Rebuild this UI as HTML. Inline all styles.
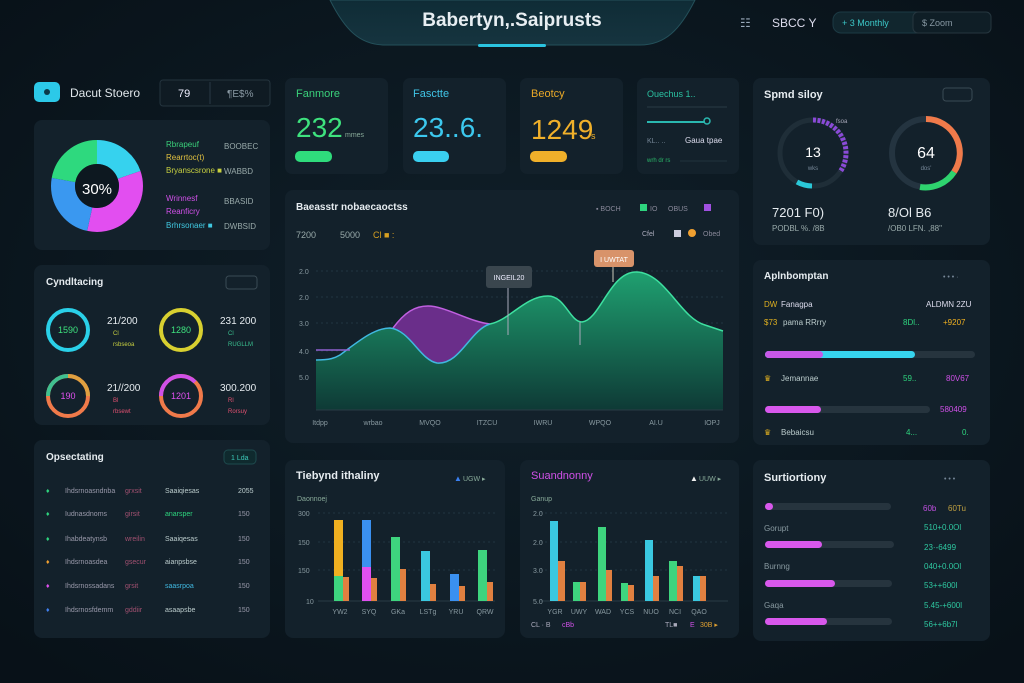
<!DOCTYPE html>
<html><head><meta charset="utf-8"><style>
html,body{margin:0;padding:0;background:#0b161e;}
svg{display:block;font-family:"Liberation Sans",sans-serif;}
</style></head><body>
<svg width="1024" height="683" viewBox="0 0 1024 683" xmlns="http://www.w3.org/2000/svg">
<defs>
<radialGradient id="bg" cx="50%" cy="45%" r="70%"><stop offset="0" stop-color="#10202a"/><stop offset="1" stop-color="#081118"/></radialGradient>
<linearGradient id="gA" x1="0" y1="0" x2="0" y2="1"><stop offset="0" stop-color="#1fa070"/><stop offset="1" stop-color="#0e3a36"/></linearGradient>
<linearGradient id="hdr" x1="0" y1="0" x2="0" y2="1"><stop offset="0" stop-color="#0f2c36"/><stop offset="1" stop-color="#16343f"/></linearGradient>
</defs>
<rect width="1024" height="683" fill="url(#bg)"/>
<!-- header -->
<path d="M330,0 L695,0 C680,30 665,45 640,45 L385,45 C360,45 345,30 330,0Z" fill="url(#hdr)" stroke="#24505a" stroke-width="1"/>
<rect x="478" y="44" width="68" height="3" rx="1.5" fill="#2bc4e0"/>
<text x="512" y="26" text-anchor="middle" font-size="19" font-weight="bold" fill="#e8eef2">Babertyn,.Saiprusts</text>
<text x="740" y="27" font-size="12" fill="#9ab">☷</text>
<text x="772" y="27" font-size="12" fill="#dde">SBCC Y</text>
<rect x="833" y="12" width="95" height="21" rx="8" fill="#11262e" stroke="#1c3a44"/>
<text x="842" y="26" font-size="9" fill="#3cc8c8">+ 3 Monthly</text>
<rect x="913" y="12" width="78" height="21" rx="5" fill="#0f1e26" stroke="#26363f"/>
<text x="922" y="26" font-size="9" fill="#8899a4">$ Zoom</text>
<!-- left top -->
<rect x="34" y="82" width="26" height="20" rx="5" fill="#2cc9e8"/>
<circle cx="47" cy="92" r="3" fill="#0b3a48"/>
<text x="70" y="97" font-size="12" fill="#dfe6ea">Dacut Stoero</text>
<rect x="160" y="80" width="110" height="26" rx="3" fill="#0f1b23" stroke="#24343e"/>
<line x1="210" y1="82" x2="210" y2="104" stroke="#2a3a44"/>
<text x="178" y="97" font-size="11" fill="#eef">79</text>
<text x="227" y="97" font-size="10" fill="#8a9aa4">¶E$%</text>
<!-- panels -->
<g fill="#13212b">
<rect x="34" y="120" width="236" height="130" rx="8"/>
<rect x="285" y="78" width="103" height="96" rx="7"/>
<rect x="403" y="78" width="103" height="96" rx="7"/>
<rect x="520" y="78" width="103" height="96" rx="7"/>
<rect x="637" y="78" width="102" height="96" rx="7"/>
<rect x="753" y="78" width="237" height="167" rx="8"/>
<rect x="285" y="190" width="454" height="253" rx="8"/>
<rect x="34" y="265" width="236" height="160" rx="8"/>
<rect x="753" y="260" width="237" height="185" rx="8"/>
<rect x="34" y="440" width="236" height="198" rx="8"/>
<rect x="285" y="460" width="220" height="178" rx="8"/>
<rect x="520" y="460" width="219" height="178" rx="8"/>
<rect x="753" y="460" width="237" height="181" rx="8"/>
</g>
<!-- donut -->
<g transform="rotate(-90 97 186)" fill="none" stroke-width="24">
<circle cx="97" cy="186" r="34" stroke="#36d2ee" stroke-dasharray="42 172" stroke-dashoffset="0"/>
<circle cx="97" cy="186" r="34" stroke="#e24ef0" stroke-dasharray="72 142" stroke-dashoffset="-42"/>
<circle cx="97" cy="186" r="34" stroke="#3a98f0" stroke-dasharray="52 162" stroke-dashoffset="-114"/>
<circle cx="97" cy="186" r="34" stroke="#2ed97e" stroke-dasharray="48 166" stroke-dashoffset="-166"/>
</g>
<circle cx="97" cy="186" r="22" fill="#0d1820"/>
<text x="97" y="194" text-anchor="middle" font-size="15" fill="#fff">30%</text>
<g font-size="8">
<text x="166" y="147" fill="#3ad07a">Rbrapeuf</text>
<text x="166" y="160" fill="#e0c040">Rearrtoc(t)</text>
<text x="166" y="173" fill="#c8d040">Bryanscsrone ■</text>
<text x="166" y="201" fill="#d050e8">Wrinnesf</text>
<text x="166" y="214" fill="#d050e8">Reanficry</text>
<text x="166" y="228" fill="#40c8e0">Brhrsonaer ■</text>
<text x="224" y="149" fill="#9aa">BOOBEC</text>
<text x="224" y="174" fill="#9aa">WABBD</text>
<text x="224" y="204" fill="#9aa">BBASID</text>
<text x="224" y="229" fill="#9aa">DWBSID</text>
</g>
<!-- KPIs -->
<text x="296" y="97" font-size="11" fill="#3ad07a">Fanmore</text>
<text x="296" y="137" font-size="28" fill="#3ee27e">232</text>
<text x="345" y="137" font-size="7" fill="#8a9">mmes</text>
<rect x="295" y="151" width="37" height="11" rx="5" fill="#2fdc7c"/>
<text x="413" y="97" font-size="11" fill="#40c4e6">Fasctte</text>
<text x="413" y="137" font-size="28" fill="#3cc8ee">23..6.</text>
<rect x="413" y="151" width="36" height="11" rx="5" fill="#3ad0f0"/>
<text x="531" y="97" font-size="11" fill="#e8a828">Beotcy</text>
<text x="531" y="139" font-size="28" fill="#f0b02a">1249</text>
<text x="591" y="139" font-size="9" fill="#f0b02a">s</text>
<rect x="530" y="151" width="37" height="11" rx="5" fill="#f0b02a"/>
<text x="647" y="97" font-size="9" fill="#2ac0a0">Ouechus  1..</text>
<line x1="647" y1="107" x2="727" y2="107" stroke="#2a3a44"/>
<line x1="647" y1="122" x2="705" y2="122" stroke="#2ab8b0" stroke-width="2"/>
<circle cx="707" cy="121" r="3" fill="none" stroke="#2ab8b0" stroke-width="1.5"/>
<text x="647" y="143" font-size="7" fill="#789">KL.. ..</text>
<text x="685" y="143" font-size="8" fill="#dde">Gaua tpae</text>
<text x="647" y="162" font-size="6" fill="#2ab86a">wrh dr rs</text>
<line x1="680" y1="161" x2="727" y2="161" stroke="#22323c"/>
<!-- gauges panel -->
<text x="764" y="98" font-size="11" font-weight="bold" fill="#e6ecf0">Spmd siloy</text>
<rect x="943" y="88" width="29" height="13" rx="3" fill="none" stroke="#3a4a54"/>
<circle cx="813" cy="153" r="33" fill="none" stroke="#1f2e38" stroke-width="5"/>
<path d="M813,120 A33,33 0 0 1 840,172" fill="none" stroke="#8a4ad8" stroke-width="5" stroke-dasharray="3 1.5"/>
<path d="M797,182 A33,33 0 0 0 812,186" fill="none" stroke="#2ac8d8" stroke-width="5"/>
<text x="813" y="157" text-anchor="middle" font-size="14" fill="#fff">13</text>
<text x="813" y="170" text-anchor="middle" font-size="6" fill="#789">wks</text>
<text x="836" y="123" font-size="6" fill="#aab">fsoa</text>
<circle cx="926" cy="153" r="34" fill="none" stroke="#243440" stroke-width="6"/>
<path d="M926,119 A34,34 0 0 1 954,172" fill="none" stroke="#f07a4a" stroke-width="6"/>
<path d="M954,172 A34,34 0 0 1 920,187" fill="none" stroke="#2ed46e" stroke-width="6"/>
<text x="926" y="158" text-anchor="middle" font-size="16" fill="#fff">64</text>
<text x="926" y="170" text-anchor="middle" font-size="6" fill="#789">dos'</text>
<text x="772" y="217" font-size="13" fill="#e6ecf0">7201 F0)</text>
<text x="772" y="231" font-size="8" fill="#9aa">PODBL %. /8B</text>
<text x="888" y="217" font-size="13" fill="#e6ecf0">8/Ol B6</text>
<text x="888" y="231" font-size="8" fill="#9aa">/OB0 LFN. ,88"</text>
<!-- area chart -->
<text x="296" y="210" font-size="10" font-weight="bold" fill="#e6ecf0">Baeasstr nobaecaoctss</text>
<text x="296" y="238" font-size="9" fill="#9aa">7200</text>
<text x="340" y="238" font-size="9" fill="#9aa">5000</text>
<text x="373" y="238" font-size="9" fill="#d8a020">Cl ■ :</text>
<text x="596" y="211" font-size="7" fill="#889">▪  BOCH</text>
<rect x="640" y="204" width="7" height="7" fill="#2ed47e"/><text x="650" y="211" font-size="7" fill="#889">IO</text>
<text x="668" y="211" font-size="7" fill="#889">OBUS</text>
<rect x="704" y="204" width="7" height="7" fill="#a050e0"/>
<text x="642" y="236" font-size="7" fill="#aab">Cfel</text>
<rect x="674" y="230" width="7" height="7" fill="#ccd"/><circle cx="692" cy="233" r="4" fill="#f0a030"/>
<text x="703" y="236" font-size="7" fill="#889">Obed</text>
<g stroke="#223540" stroke-dasharray="2 3">
<line x1="316" y1="271" x2="723" y2="271"/><line x1="316" y1="297" x2="723" y2="297"/>
<line x1="316" y1="323" x2="723" y2="323"/><line x1="316" y1="351" x2="723" y2="351"/>
<line x1="316" y1="377" x2="723" y2="377"/>
</g>
<g font-size="7" fill="#8899a0">
<text x="299" y="274">2.0</text><text x="299" y="300">2.0</text><text x="299" y="326">3.0</text><text x="299" y="354">4.0</text><text x="299" y="380">5.0</text>
</g>
<path d="M316,360 C330,360 335,358 340,355 C360,340 375,328 390,328 C410,330 420,360 437,363 C460,365 470,330 490,324 C510,320 525,296 548,296 C565,296 570,322 582,322 C600,320 610,272 636,272 C665,272 680,318 705,325 L723,331 L723,410 L316,410 Z" fill="url(#gA)"/>
<path d="M393,328 C405,312 415,306 428,306 C445,306 470,322 490,324 C470,330 460,365 437,363 C420,360 410,330 393,328 Z" fill="#6a2e8a"/>
<path d="M393,328 C405,312 415,306 428,306 C445,306 470,322 490,324" fill="none" stroke="#c060e0" stroke-width="1.5"/>
<path d="M316,360 C330,360 335,358 340,355 C360,340 375,328 390,328 C410,330 420,360 437,363 C460,365 470,330 490,324" fill="none" stroke="#40b8e0" stroke-width="1.5"/>
<path d="M490,324 C510,320 525,296 548,296 C565,296 570,322 582,322 C600,320 610,272 636,272 C665,272 680,318 705,325 L723,331" fill="none" stroke="#3ee0a0" stroke-width="1.5"/>
<line x1="316" y1="350" x2="350" y2="350" stroke="#9060d0" stroke-width="1.5"/>
<line x1="316" y1="410" x2="723" y2="410" stroke="#2a3c46"/>
<line x1="508" y1="288" x2="508" y2="335" stroke="#aab" stroke-width="1"/>
<rect x="486" y="266" width="46" height="22" rx="3" fill="#3a464e"/>
<text x="509" y="280" text-anchor="middle" font-size="7" fill="#eef">INGEIL20</text>
<line x1="613" y1="267" x2="613" y2="282" stroke="#ccb" stroke-width="1"/>
<line x1="580" y1="322" x2="580" y2="345" stroke="#aab"/>
<rect x="594" y="250" width="40" height="17" rx="3" fill="#d8936a"/>
<text x="614" y="262" text-anchor="middle" font-size="7" fill="#fff">I UWTAT</text>
<g font-size="7" fill="#8899a0" text-anchor="middle">
<text x="320" y="425">Itdpp</text><text x="373" y="425">wrbao</text><text x="430" y="425">MVQO</text><text x="487" y="425">ITZCU</text><text x="543" y="425">IWRU</text><text x="600" y="425">WPQO</text><text x="656" y="425">AI.U</text><text x="712" y="425">IOPJ</text>
</g>
<!-- left mid rings -->
<text x="46" y="285" font-size="10" font-weight="bold" fill="#e6ecf0">Cyndltacing</text>
<rect x="226" y="276" width="31" height="13" rx="3" fill="none" stroke="#3a4a54"/>
<g fill="none" stroke-width="4">
<circle cx="68" cy="330" r="20" stroke="#2ad0e8"/>
<circle cx="181" cy="330" r="20" stroke="#d8d030"/>
<circle cx="68" cy="396" r="20" stroke="#f07a4a"/>
<path d="M48,396 A20,20 0 0 1 68,376" stroke="#40c090"/>
<path d="M68,376 A20,20 0 0 1 88,396" stroke="#e0a040"/>
<circle cx="181" cy="396" r="20" stroke="#f07a4a"/>
<path d="M161,396 A20,20 0 0 1 181,376 A20,20 0 0 1 195,382" stroke="#d050e8"/>
</g>
<g font-size="9" text-anchor="middle">
<text x="68" y="333" fill="#3ee27e">1590</text><text x="181" y="333" fill="#3ee27e">1280</text>
<text x="68" y="399" fill="#e050f0">190</text><text x="181" y="399" fill="#e050f0">1201</text>
</g>
<g font-size="10" fill="#e6ecf0">
<text x="107" y="324">21/200</text><text x="220" y="324">231 200</text>
<text x="107" y="391">21//200</text><text x="220" y="391">300.200</text>
</g>
<g font-size="6">
<text x="113" y="335" fill="#c8d040">Cl</text><text x="113" y="346" fill="#c8d040">rsbseoa</text>
<text x="228" y="335" fill="#3ac090">Cl</text><text x="228" y="346" fill="#3ac090">RUGLLM</text>
<text x="113" y="402" fill="#e05070">Bl</text><text x="113" y="413" fill="#e05070">rbsewt</text>
<text x="228" y="402" fill="#e05070">Rl</text><text x="228" y="413" fill="#e05070">Rorsuy</text>
</g>
<!-- left bottom list -->
<text x="46" y="460" font-size="10" font-weight="bold" fill="#e6ecf0">Opsectating</text>
<rect x="224" y="450" width="32" height="14" rx="4" fill="#0f2a2e" stroke="#1e4a4e"/>
<text x="231" y="460" font-size="7" fill="#3cc8b8">1 Lda</text>
<g font-size="7">
<text x="46" y="493" fill="#2ed47e">♦</text><text x="65" y="493" fill="#99a">Ihdsrnoasndnba</text><text x="125" y="493" fill="#a05070">grxsit</text><text x="165" y="493" fill="#bcc">Saaiqiesas</text><text x="238" y="493" fill="#bcc">2055</text>
<text x="46" y="516" fill="#2ed47e">♦</text><text x="65" y="516" fill="#99a">Iudnasdnoms</text><text x="125" y="516" fill="#a05070">girsit</text><text x="165" y="516" fill="#2ed47e">anarsper</text><text x="238" y="516" fill="#99a">150</text>
<text x="46" y="541" fill="#2ed47e">♦</text><text x="65" y="541" fill="#99a">Ihabdeatynsb</text><text x="125" y="541" fill="#a05070">wreilin</text><text x="165" y="541" fill="#bcc">Saaiqesas</text><text x="238" y="541" fill="#99a">150</text>
<text x="46" y="564" fill="#f0a030">♦</text><text x="65" y="564" fill="#99a">Ihdsrnoasdea</text><text x="125" y="564" fill="#a05070">gsecur</text><text x="165" y="564" fill="#bcc">aianpsbse</text><text x="238" y="564" fill="#99a">150</text>
<text x="46" y="588" fill="#e050f0">♦</text><text x="65" y="588" fill="#99a">Ihdsrnossadans</text><text x="125" y="588" fill="#a05070">grsit</text><text x="165" y="588" fill="#40b8e0">saasrpoa</text><text x="238" y="588" fill="#99a">150</text>
<text x="46" y="612" fill="#4080f0">♦</text><text x="65" y="612" fill="#99a">Ihdsrnosfdemm</text><text x="125" y="612" fill="#a05070">gddiir</text><text x="165" y="612" fill="#bcc">asaapsbe</text><text x="238" y="612" fill="#99a">150</text>
</g>
<!-- bar chart 1 -->
<text x="296" y="479" font-size="11" font-weight="bold" fill="#e6ecf0">Tiebynd ithaliny</text>
<text x="454" y="481" font-size="8" fill="#3a80f0">▲</text><text x="463" y="481" font-size="7" fill="#8a9">UGW ▸</text>
<text x="297" y="501" font-size="7" fill="#8a9">Daonnoej</text>
<g stroke="#223540" stroke-dasharray="2 3"><line x1="318" y1="513" x2="495" y2="513"/><line x1="318" y1="542" x2="495" y2="542"/><line x1="318" y1="570" x2="495" y2="570"/></g>
<line x1="318" y1="601" x2="495" y2="601" stroke="#2a3c46"/>
<g font-size="7" fill="#8899a0"><text x="298" y="516">300</text><text x="298" y="545">150</text><text x="298" y="573">150</text><text x="306" y="604">10</text></g>
<rect x="334" y="520" width="9" height="81" fill="#f0b020"/><rect x="334" y="576" width="9" height="25" fill="#3ed47e"/><rect x="343" y="577" width="6" height="24" fill="#e08040"/>
<rect x="362" y="520" width="9" height="81" fill="#3a90f0"/><rect x="362" y="567" width="9" height="34" fill="#e050f0"/><rect x="371" y="578" width="6" height="23" fill="#e08040"/>
<rect x="391" y="537" width="9" height="64" fill="#3ed47e"/><rect x="400" y="569" width="6" height="32" fill="#e08040"/>
<rect x="421" y="551" width="9" height="50" fill="#3ac8e0"/><rect x="430" y="584" width="6" height="17" fill="#e08040"/>
<rect x="450" y="574" width="9" height="27" fill="#3a90f0"/><rect x="459" y="586" width="6" height="15" fill="#e08040"/>
<rect x="478" y="550" width="9" height="51" fill="#3ed47e"/><rect x="487" y="582" width="6" height="19" fill="#e08040"/>
<g font-size="7" fill="#8899a0" text-anchor="middle"><text x="340" y="614">YW2</text><text x="369" y="614">SYQ</text><text x="398" y="614">GKa</text><text x="428" y="614">LSTg</text><text x="456" y="614">YRU</text><text x="485" y="614">QRW</text></g>
<!-- bar chart 2 -->
<text x="531" y="479" font-size="11" fill="#d050e8">Suandnonny</text>
<text x="690" y="481" font-size="8" fill="#eee">▲</text><text x="699" y="481" font-size="7" fill="#8a9">UUW ▸</text>
<text x="531" y="501" font-size="7" fill="#8a9">Ganup</text>
<g stroke="#223540" stroke-dasharray="2 3"><line x1="540" y1="513" x2="728" y2="513"/><line x1="540" y1="542" x2="728" y2="542"/><line x1="540" y1="570" x2="728" y2="570"/></g>
<line x1="540" y1="601" x2="728" y2="601" stroke="#2a3c46"/>
<g font-size="7" fill="#8899a0"><text x="533" y="516">2.0</text><text x="533" y="545">2.0</text><text x="533" y="573">3.0</text><text x="533" y="604">5.0</text></g>
<rect x="550" y="521" width="8" height="80" fill="#3ac8e0"/><rect x="558" y="561" width="7" height="40" fill="#e08040"/>
<rect x="573" y="582" width="7" height="19" fill="#3ed47e"/><rect x="580" y="582" width="6" height="19" fill="#e08040"/>
<rect x="598" y="527" width="8" height="74" fill="#3ed47e"/><rect x="606" y="570" width="6" height="31" fill="#e08040"/>
<rect x="621" y="583" width="7" height="18" fill="#3ed47e"/><rect x="628" y="585" width="6" height="16" fill="#e08040"/>
<rect x="645" y="540" width="8" height="61" fill="#3ac8e0"/><rect x="653" y="576" width="6" height="25" fill="#e08040"/>
<rect x="669" y="561" width="8" height="40" fill="#3ed47e"/><rect x="677" y="566" width="6" height="35" fill="#e08040"/>
<rect x="693" y="576" width="7" height="25" fill="#3ac8e0"/><rect x="700" y="576" width="6" height="25" fill="#e08040"/>
<g font-size="7" fill="#8899a0" text-anchor="middle"><text x="555" y="614">YGR</text><text x="579" y="614">UWY</text><text x="603" y="614">WAD</text><text x="627" y="614">YCS</text><text x="651" y="614">NUO</text><text x="675" y="614">NCI</text><text x="699" y="614">QAO</text></g>
<text x="531" y="627" font-size="7" fill="#aab">CL · B</text><text x="562" y="627" font-size="7" fill="#d050e8">cBb</text>
<text x="665" y="627" font-size="7" fill="#aab">TL■</text><text x="690" y="627" font-size="7" fill="#d050e8">E</text><text x="700" y="627" font-size="7" fill="#e0a030">30B ▸</text>
<!-- right mid -->
<text x="764" y="279" font-size="10" font-weight="bold" fill="#e6ecf0">Aplnbomptan</text>
<text x="943" y="279" font-size="7" fill="#789">• • • ·</text>
<g font-size="8">
<text x="764" y="307" fill="#e0b020">DW</text><text x="781" y="307" fill="#dde">Fanagpa</text><text x="926" y="307" fill="#dde">ALDMN 2ZU</text>
<text x="764" y="325" fill="#e0b020">$73</text><text x="783" y="325" fill="#bcc">pama RRrry</text><text x="903" y="325" fill="#2ed47e">8Dl..</text><text x="943" y="325" fill="#f0b020">+9207</text>
<text x="764" y="381" fill="#e0b020">♛</text><text x="781" y="381" fill="#bcc">Jemannae</text><text x="903" y="381" fill="#2ed47e">59..</text><text x="946" y="381" fill="#d050e8">80V67</text>
<text x="940" y="412" fill="#d050e8">580409</text>
<text x="764" y="435" fill="#e0b020">♛</text><text x="781" y="435" fill="#bcc">Bebaicsu</text><text x="906" y="435" fill="#2ed47e">4...</text><text x="962" y="435" fill="#2ed47e">0.</text>
</g>
<rect x="765" y="351" width="210" height="7" rx="3.5" fill="#26343e"/>
<rect x="765" y="351" width="150" height="7" rx="3.5" fill="#36d4ee"/>
<rect x="765" y="351" width="58" height="7" rx="3.5" fill="#c858e8"/>
<rect x="765" y="406" width="165" height="7" rx="3.5" fill="#26343e"/>
<rect x="765" y="406" width="56" height="7" rx="3.5" fill="#d858ec"/>
<!-- right bottom -->
<text x="764" y="481" font-size="11" font-weight="bold" fill="#e6ecf0">Surtiortiony</text>
<text x="944" y="481" font-size="7" fill="#789">• • •</text>
<rect x="765" y="503" width="126" height="7" rx="3.5" fill="#26343e"/><rect x="765" y="503" width="8" height="7" rx="3.5" fill="#d858ec"/>
<rect x="765" y="541" width="129" height="7" rx="3.5" fill="#26343e"/><rect x="765" y="541" width="57" height="7" rx="3.5" fill="#d858ec"/>
<rect x="765" y="580" width="127" height="7" rx="3.5" fill="#26343e"/><rect x="765" y="580" width="70" height="7" rx="3.5" fill="#d858ec"/>
<rect x="765" y="618" width="127" height="7" rx="3.5" fill="#26343e"/><rect x="765" y="618" width="62" height="7" rx="3.5" fill="#d858ec"/>
<g font-size="8" fill="#8899a0"><text x="764" y="531">Gorupt</text><text x="764" y="569">Burnng</text><text x="764" y="608">Gaqa</text></g>
<g font-size="8" fill="#2ec8a0">
<text x="923" y="511" fill="#c050e0">60b</text><text x="948" y="511" fill="#c0a040">60Tu</text>
<text x="924" y="530">510+0.0Ol</text><text x="924" y="550">23·-6499</text><text x="924" y="569">040+0.0Ol</text><text x="924" y="588">53++600l</text><text x="924" y="608">5.45-+600l</text><text x="924" y="627">56++6b7l</text>
</g>
</svg>
</body></html>
